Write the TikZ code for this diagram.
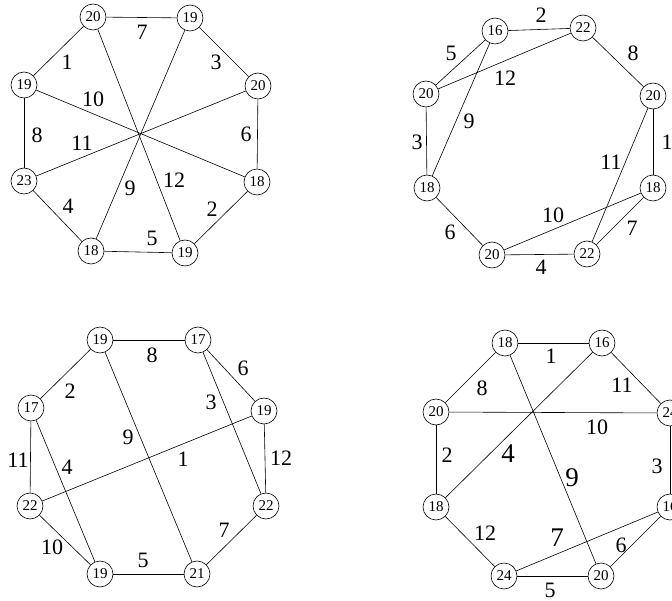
\documentclass[tikz,border=0pt]{standalone}
\usepackage{fontspec}
\setmainfont{Liberation Serif}

\definecolor{gredge}{RGB}{0, 0, 0}
\definecolor{grfill}{RGB}{255, 255, 255}

\begin{document}
\begin{tikzpicture}[
    x=1pt, y=-1pt,
    vtx/.style={circle, draw=gredge, fill=grfill, line width=0.6pt, minimum size=26pt,
                inner sep=0pt, font=\fontsize{15}{15}\selectfont},
    edge/.style={draw=gredge, line width=0.6pt},
    wt/.style={inner sep=0pt, font=\fontsize{22}{22}\selectfont},
    bigwt/.style={inner sep=0pt, font=\fontsize{27}{27}\selectfont},
  ]
    \clip (0, 0) rectangle (672, 601);

    % --- Graph A: star in the middle (top left)
    \foreach \n/\x/\y/\w in {1/93/17/20, 2/190/18/19, 3/258/86/20, 4/257/182/18,
                             5/185/253/19, 6/91/251/18, 7/24/181/23, 8/24/85/19} {
      \node[vtx] (a\n) at (\x, \y) {\w};
    }
    \foreach \u/\v in {1/2, 2/3, 3/4, 4/5, 5/6, 6/7, 7/8, 8/1, 1/5, 2/6, 3/7, 8/4} {
      \draw[edge] (a\u) -- (a\v);
    }
    \foreach \t/\x/\y in {7/142/32, 3/216/62, 6/246/134, 2/212/209, 5/152/238, 4/68/206,
                          8/37/135, 1/67/62, 10/93/99, 11/82/143, 9/130/188, 12/174/180} {
      \node[wt] (la\t) at (\x, \y) {\t};
    }

    % --- Graph B (top right)
    \foreach \n/\x/\y/\w in {1/495/31/16, 2/583/28/22, 3/653/96/20, 4/653/188/18,
                             5/587/254/22, 6/492/255/20, 7/427/188/18, 8/426/94/20} {
      \node[vtx] (b\n) at (\x, \y) {\w};
    }
    \foreach \u/\v in {1/2, 2/3, 3/4, 4/5, 5/6, 6/7, 7/8, 8/1, 8/2, 1/7, 3/5, 4/6} {
      \draw[edge] (b\u) -- (b\v);
    }
    \foreach \t/\x/\y in {2/541/15, 8/633/53, 1/667/142, 7/632/228, 4/541/267, 6/450/232,
                          3/417/142, 5/451/53, 12/505/78, 9/469/121, 11/611/162, 10/553/215} {
      \node[wt] (lb\t) at (\x, \y) {\t};
    }

    % --- Graph C (bottom left)
    \foreach \n/\x/\y/\w in {1/100/340/19, 2/198/340/17, 3/264/411/19, 4/266/506/22,
                             5/197/574/21, 6/100/574/19, 7/30/506/22, 8/31/408/17} {
      \node[vtx] (c\n) at (\x, \y) {\w};
    }
    \foreach \u/\v in {1/2, 2/3, 3/4, 4/5, 5/6, 6/7, 7/8, 8/1, 1/5, 2/4, 3/7, 8/6} {
      \draw[edge] (c\u) -- (c\v);
    }
    \foreach \t/\x/\y in {8/152/355, 6/243/368, 12/281/458, 7/224/530, 5/143/560, 10/52/547,
                          11/18/460, 2/70/391, 9/128/437, 3/211/402, 1/183/459, 4/67/467} {
      \node[wt] (lc\t) at (\x, \y) {\t};
    }

    % --- Graph D (bottom right, cut at the page edge)
    \foreach \n/\x/\y/\w in {1/505/343/18, 2/602/343/16, 3/670/413/24, 4/670/507/16,
                             5/601/576/20, 6/504/576/24, 7/436/507/18, 8/436/412/20} {
      \node[vtx] (d\n) at (\x, \y) {\w};
    }
    \foreach \u/\v in {1/2, 2/3, 3/4, 4/5, 5/6, 6/7, 7/8, 8/1, 1/5, 2/7, 8/3, 4/6} {
      \draw[edge] (d\u) -- (d\v);
    }
    \foreach \t/\x/\y in {1/551/356, 11/622/385, 10/597/427, 3/657/466, 6/621/545,
                          5/550/590, 12/485/533, 2/447/455, 8/482/388} {
      \node[wt] (ld\t) at (\x, \y) {\t};
    }
    \foreach \t/\x/\y in {7/557/538, 4/508/454, 9/572/478} {
      \node[bigwt] (ld\t) at (\x, \y) {\t};
    }
  \end{tikzpicture}
\end{document}
